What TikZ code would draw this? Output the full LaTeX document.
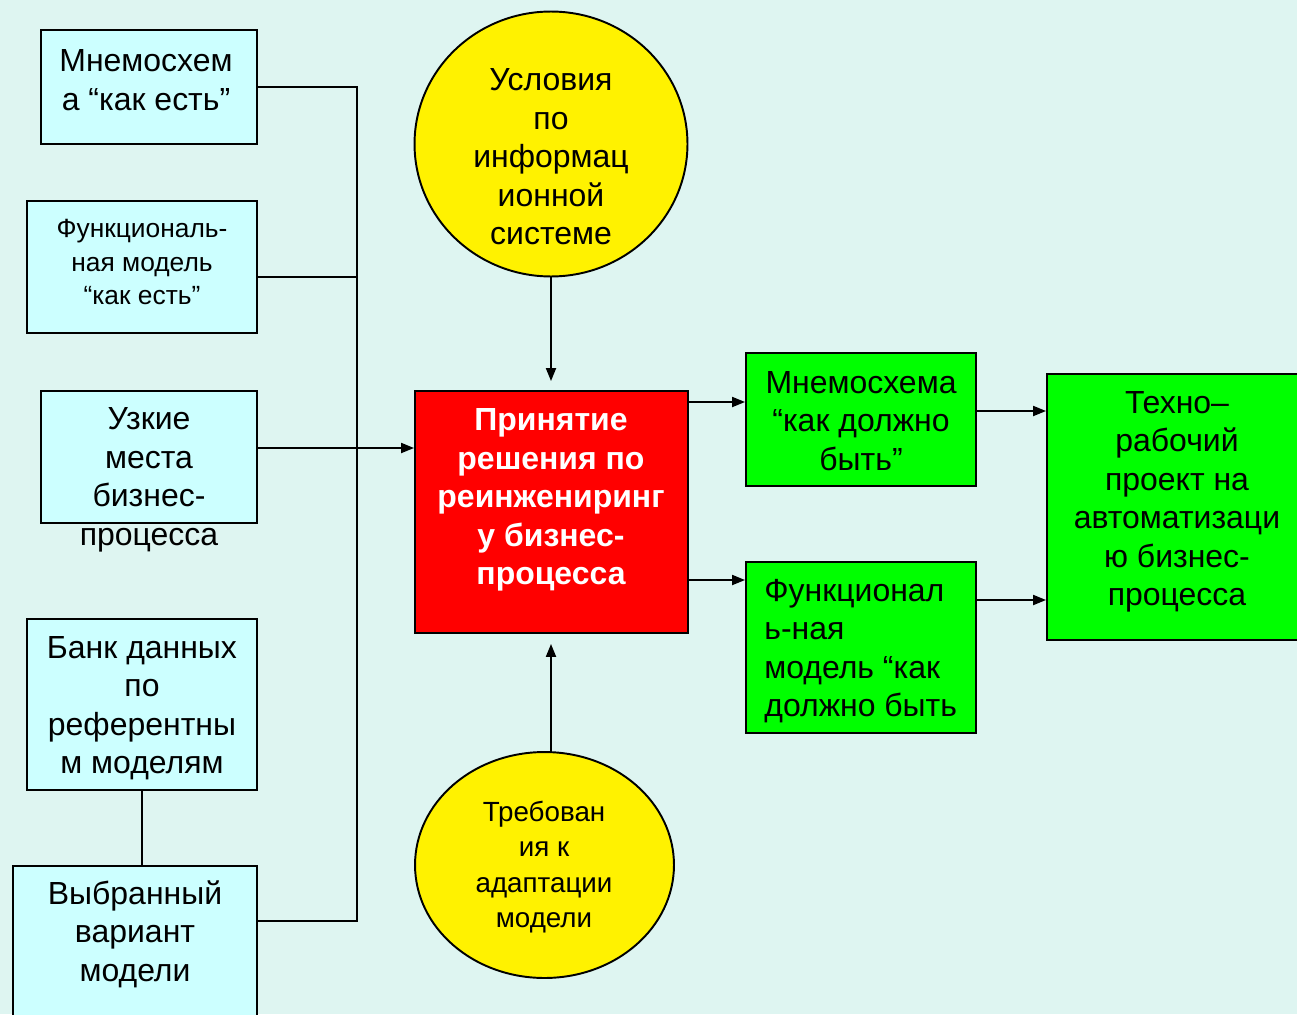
\documentclass[tikz,border=0pt]{standalone}
\usepackage{fontspec}
\setmainfont{Liberation Sans}
\usetikzlibrary{arrows.meta,shapes.geometric}
\definecolor{bgc}{RGB}{222,245,241}
\definecolor{cyanbox}{RGB}{204,255,255}
\tikzset{
	box/.style={draw=black,line width=1.1pt,inner sep=0pt},
	txt/.style={inner sep=0pt,align=center,font=\fontsize{18.2}{21.9}\selectfont},
	smalltxt/.style={inner sep=0pt,align=center,font=\fontsize{15}{19.3}\selectfont},
	ln/.style={line width=1.1pt},
	arr/.style={line width=1.1pt,-{Triangle[length=0.26cm,width=0.2cm]}}
}

\begin{document}
\begin{tikzpicture}[x=0.02cm,y=-0.02cm]
		
		\useasboundingbox (0,0) rectangle (1297,1014);
		\fill[bgc] (0,0) rectangle (1297,1014);
		
		\node[box,fill=cyanbox,minimum width=4.32cm,minimum height=2.28cm] (mn) at (149,87) {};
		\node[txt] (mn-t) at (146,80) {Мнемосхем\\а “как есть”};
		
		\node[box,fill=cyanbox,minimum width=4.6cm,minimum height=2.64cm] (fm) at (142,267) {};
		\node[smalltxt] (fm-t) at (142,262) {Функциональ-\\ная модель\\“как есть”};
		
		\node[box,fill=cyanbox,minimum width=4.32cm,minimum height=2.64cm] (uz) at (149,457) {};
		\node[txt] (uz-t) at (149,480) {Узкие\\места\\бизнес-\\процесса};
		
		\node[box,fill=cyanbox,minimum width=4.6cm,minimum height=3.42cm] (bank) at (142,704.5) {};
		\node[txt] (bank-t) at (142,708) {Банк данных\\по\\референтны\\м моделям};
		
		\node[box,fill=cyanbox,minimum width=4.88cm,minimum height=3.28cm] (vyb) at (135,948) {};
		\node[txt] (vyb-t) at (135,934) {Выбранный\\вариант\\модели};
		
		\node[box,ellipse,fill=yellow,minimum width=5.46cm,minimum height=5.3cm] (ip) at (551,144) {};
		\node[txt] (ip-t) at (551,157) {Условия\\по\\информац\\ионной\\системе};
		
		\node[box,fill=red,minimum width=5.46cm,minimum height=4.84cm] (pr) at (551.5,512) {};
		\node[txt,text=white,font=\fontsize{18.2}{21.9}\selectfont\bfseries] (pr-t) at (551,500) {Принятие\\решения по\\реинжениринг\\у бизнес-\\процесса};
		
		\node[box,ellipse,fill=yellow,minimum width=5.18cm,minimum height=4.52cm] (tr) at (544.5,865) {};
		\node[smalltxt,font=\fontsize{15.8}{20.1}\selectfont] (tr-t) at (544,867) {Требован\\ия к\\адаптации\\модели};
		
		\node[box,fill=green,minimum width=4.6cm,minimum height=2.66cm] (g1) at (861,419.5) {};
		\node[txt] (g1-t) at (861,421) {Мнемосхема\\“как должно\\быть”};
		
		\node[box,fill=green,minimum width=4.6cm,minimum height=3.42cm] (g2) at (861,647.5) {};
		\node[txt,align=left,anchor=west] (g2-t) at (764,651) {Функционал\\ь-ная\\модель “как\\должно быть};
		
		\node[box,fill=green,minimum width=5.26cm,minimum height=5.32cm] (g3) at (1178.5,507) {};
		\node[txt] (g3-t) at (1177,502) {Техно–\\рабочий\\проект на\\автоматизаци\\ю бизнес-\\процесса};
		
		\coordinate (bb) at (357,921);
		\coordinate (j2) at (357,277);
		\coordinate (j3) at (357,448);
		\coordinate (r1) at (0,402);
		\coordinate (r2) at (0,580);
		\coordinate (r3) at (0,411);
		\coordinate (r4) at (0,600);
		
		\draw[ln] (mn.east) -- (mn.east -| bb) -- (bb) -- (vyb.east |- bb);
		\draw[ln] (fm.east |- j2) -- (j2);
		\draw[arr] (uz.east |- j3) -- (pr.west |- j3);
		\draw[ln] (bank.south) -- (bank.south |- vyb.north);
		
		\draw[arr,shorten >=0.18cm] (ip.south) -- (ip.south |- pr.north);
		\draw[arr,shorten >=0.2cm] (ip.south |- tr.north) -- (ip.south |- pr.south);
		
		\draw[arr] (pr.east |- r1) -- (g1.west |- r1);
		\draw[arr] (pr.east |- r2) -- (g2.west |- r2);
		\draw[arr] (g1.east |- r3) -- (g3.west |- r3);
		\draw[arr] (g2.east |- r4) -- (g3.west |- r4);
		
	\end{tikzpicture}
\end{document}
